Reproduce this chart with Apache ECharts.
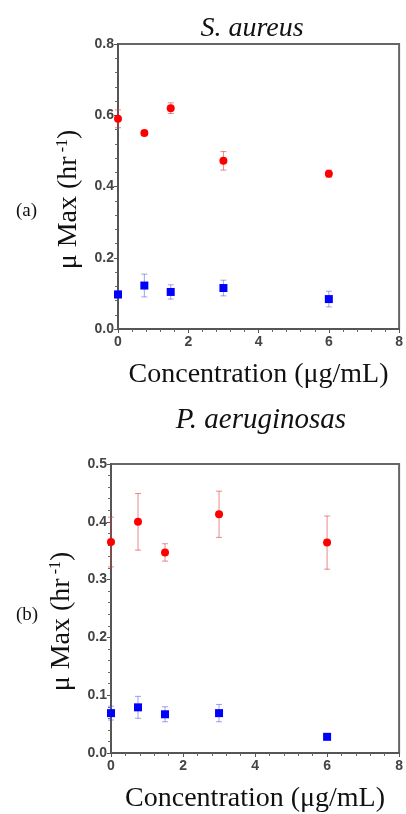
<!DOCTYPE html>
<html>
<head>
<meta charset="utf-8">
<script src="https://cdn.jsdelivr.net/npm/echarts@6/dist/echarts.min.js"></script>
<style>
html, body { margin: 0; padding: 0; background: #fff; }
#chart { width: 406px; height: 814px; }
</style>
</head>
<body>
<div id="chart"></div>
<script>
// concentration (ug/mL)
var conc = [0, 0.75, 1.5, 3, 6];

// (a) S. aureus
var saRed = [0.59, 0.55, 0.62, 0.472, 0.436];
var saRedErr = [0.025, 0.007, 0.015, 0.026, 0.01];
var saBlue = [0.097, 0.122, 0.104, 0.115, 0.084];
var saBlueErr = [0.01, 0.032, 0.02, 0.022, 0.022];

// (b) P. aeruginosas
var paRed = [0.365, 0.40, 0.347, 0.413, 0.364];
var paRedErr = [0.043, 0.049, 0.015, 0.04, 0.046];
var paBlue = [0.069, 0.079, 0.067, 0.069, 0.028];
var paBlueErr = [0.012, 0.019, 0.013, 0.015, 0];

function pts(vals) {
	var out = [];
	for (var i = 0; i < conc.length; i++) out.push([conc[i], vals[i]]);
	return out;
}
function errs(vals, e) {
	var out = [];
	for (var i = 0; i < conc.length; i++) {
		if (e[i] > 0) out.push([conc[i], vals[i] - e[i], vals[i] + e[i]]);
	}
	return out;
}

function errSeries(idx, data, color) {
	return {
		type: 'custom',
		xAxisIndex: idx,
		yAxisIndex: idx,
		data: data,
		z: 1,
		renderItem: function(params, api) {
			var lo = api.coord([api.value(0), api.value(1)]);
			var hi = api.coord([api.value(0), api.value(2)]);
			var w = 3;
			var st = { stroke: color, lineWidth: 1 };
			return {
				type: 'group',
				children: [
					{ type: 'line', shape: { x1: lo[0], y1: lo[1], x2: hi[0], y2: hi[1] }, style: st },
					{ type: 'line', shape: { x1: lo[0] - w, y1: lo[1], x2: lo[0] + w, y2: lo[1] }, style: st },
					{ type: 'line', shape: { x1: hi[0] - w, y1: hi[1], x2: hi[0] + w, y2: hi[1] }, style: st }
				]
			};
		}
	};
}

function dots(idx, vals, symbol, color) {
	return {
		type: 'scatter', xAxisIndex: idx, yAxisIndex: idx, data: pts(vals),
		symbol: symbol, symbolSize: 8, itemStyle: { color: color, opacity: 1 }, z: 3
	};
}

var serif = '"Liberation Serif", "Times New Roman", serif';
var tickFont = { color: '#444', fontWeight: 'bold', fontSize: 14, fontFamily: '"Liberation Sans", Arial, sans-serif' };

function xAxisCfg(idx) {
	return {
		type: 'value', gridIndex: idx, min: 0, max: 8, interval: 2,
		name: 'Concentration (μg/mL)',
		nameLocation: 'middle', nameGap: 32,
		nameTextStyle: { fontFamily: serif, fontSize: 28, color: '#111' },
		axisLine: { lineStyle: { color: '#555', width: 2 } },
		axisTick: { show: true, length: 4, lineStyle: { color: '#555' } },
		minorTick: { show: true, splitNumber: 5, length: 3, lineStyle: { color: '#666' } },
		splitLine: { show: false },
		axisLabel: Object.assign({ margin: 6 }, tickFont)
	};
}
function yAxisCfg(idx, max) {
	return {
		type: 'value', gridIndex: idx, min: 0, max: max, interval: max / (max > 0.6 ? 4 : 5),
		name: '{a|μ Max (hr}{s| -1}{a|)}',
		nameLocation: 'middle', nameGap: 35,
		nameTextStyle: {
			padding: [0, 26, 0, 0],
			rich: {
				a: { fontFamily: serif, fontSize: 28, color: '#111' },
				s: { fontFamily: serif, fontSize: 16, color: '#111', verticalAlign: 'top', padding: [0, 0, 12, 0] }
			}
		},
		axisLine: { lineStyle: { color: '#555', width: 2 } },
		axisTick: { show: true, length: 4, lineStyle: { color: '#555' } },
		minorTick: { show: true, splitNumber: 5, length: 3, lineStyle: { color: '#666' } },
		splitLine: { show: false },
		axisLabel: Object.assign({ margin: 4, formatter: function(v) { return v.toFixed(1); } }, tickFont)
	};
}

var chart = echarts.init(document.getElementById('chart'));
var option = {
	backgroundColor: '#fff',
	animation: false,
	title: [
		{ text: 'S. aureus', left: 247, top: 10, textAlign: 'center',
		  textStyle: { fontFamily: serif, fontStyle: 'italic', fontWeight: 'normal', fontSize: 28, color: '#111' } },
		{ text: 'P. aeruginosas', left: 256, top: 401, textAlign: 'center',
		  textStyle: { fontFamily: serif, fontStyle: 'italic', fontWeight: 'normal', fontSize: 29, color: '#111' } },
		{ text: '(a)', left: 11, top: 197,
		  textStyle: { fontFamily: serif, fontWeight: 'normal', fontSize: 19, color: '#111' } },
		{ text: '(b)', left: 11, top: 601,
		  textStyle: { fontFamily: serif, fontWeight: 'normal', fontSize: 19, color: '#111' } }
	],
	grid: [
		{ left: 118, top: 44, width: 283, height: 285, show: true, borderColor: '#666', borderWidth: 2, backgroundColor: '#fff' },
		{ left: 111, top: 464, width: 291, height: 293, show: true, borderColor: '#666', borderWidth: 2, backgroundColor: '#fff' }
	],
	xAxis: [xAxisCfg(0), xAxisCfg(1)],
	yAxis: [yAxisCfg(0, 0.8), yAxisCfg(1, 0.5)],
	series: [
		errSeries(0, errs(saRed, saRedErr), 'rgba(220,60,60,0.6)'),
		errSeries(0, errs(saBlue, saBlueErr), 'rgba(70,70,220,0.5)'),
		dots(0, saRed, 'circle', '#f00'),
		dots(0, saBlue, 'rect', '#00f'),
		errSeries(1, errs(paRed, paRedErr), 'rgba(220,60,60,0.6)'),
		errSeries(1, errs(paBlue, paBlueErr), 'rgba(70,70,220,0.5)'),
		dots(1, paRed, 'circle', '#f00'),
		dots(1, paBlue, 'rect', '#00f')
	]
};
chart.setOption(option);
</script>
</body>
</html>
